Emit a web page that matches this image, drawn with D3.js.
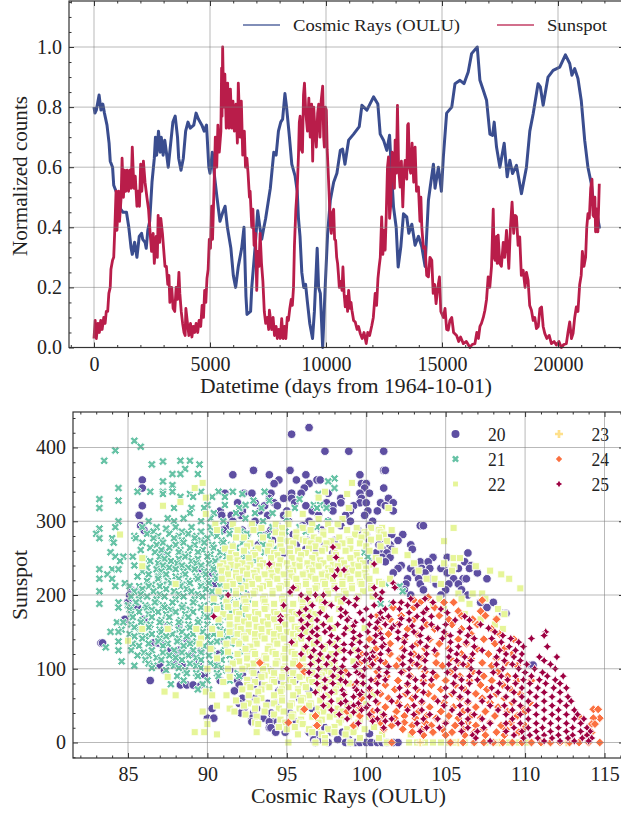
<!DOCTYPE html>
<html>
<head>
<meta charset="utf-8">
<script src="https://cdnjs.cloudflare.com/ajax/libs/d3/7.8.5/d3.min.js"></script>
<style>
body { margin: 0; background: #fff; }
svg { display: block; }
text { font-family: "Liberation Serif", serif; fill: #222; }
</style>
</head>
<body>
<div id="chart"></div>
<script>
// [day, normalized counts]
var cosmicRays = [[0,.80],[40,.78],[100,.79],[150,.81],[220,.84],[300,.79],[380,.81],[450,.78],[560,.74],[650,.68],[700,.62],[800,.60],[850,.54],[950,.52],[1050,.50],[1150,.46],[1250,.45],[1400,.45],[1500,.40],[1600,.33],[1650,.31],[1750,.35],[1850,.30],[1950,.37],[2050,.38],[2100,.36],[2200,.35],[2250,.33],[2320,.39],[2400,.42],[2500,.55],[2600,.63],[2650,.70],[2700,.64],[2780,.72],[2850,.65],[2900,.70],[2980,.64],[3050,.69],[3120,.65],[3200,.60],[3280,.66],[3400,.75],[3500,.77],[3600,.70],[3650,.63],[3750,.59],[3850,.63],[3950,.72],[4050,.75],[4150,.73],[4300,.74],[4400,.78],[4500,.76],[4650,.74],[4750,.72],[4850,.74],[4950,.60],[5000,.58],[5100,.65],[5150,.60],[5300,.50],[5430,.42],[5550,.45],[5650,.47],[5750,.40],[5900,.33],[6005,.24],[6105,.20],[6220,.27],[6365,.33],[6465,.40],[6550,.17],[6595,.11],[6750,.12],[6800,.20],[6940,.33],[7056,.455],[7150,.40],[7230,.36],[7300,.39],[7400,.43],[7500,.48],[7600,.53],[7750,.65],[7850,.64],[7950,.72],[8050,.75],[8130,.76],[8230,.845],[8300,.80],[8424,.70],[8525,.61],[8669,.57],[8760,.52],[8813,.43],[8880,.37],[8957,.25],[9040,.20],[9120,.21],[9200,.15],[9300,.08],[9420,.03],[9500,.12],[9620,.33],[9680,.20],[9756,.18],[9857,0],[9970,.21],[10070,.38],[10186,.49],[10330,.55],[10470,.58],[10616,.656],[10716,.66],[10817,.61],[10975,.69],[11190,.71],[11433,.735],[11548,.806],[11763,.79],[12050,.834],[12235,.81],[12336,.71],[12480,.69],[12620,.656],[12740,.706],[12810,.60],[12910,.468],[13025,.40],[13110,.268],[13225,.335],[13340,.445],[13480,.435],[13570,.38],[13700,.41],[13840,.34],[13985,.37],[14130,.335],[14270,.27],[14415,.49],[14485,.53],[14630,.61],[14700,.53],[14845,.60],[14975,.52],[15058,.634],[15200,.78],[15420,.80],[15560,.878],[15775,.889],[15947,.878],[16130,.917],[16276,.978],[16520,1],[16635,.889],[16780,.856],[16920,.823],[17065,.71],[17180,.706],[17250,.75],[17350,.667],[17495,.60],[17680,.68],[17810,.568],[17925,.623],[18040,.579],[18210,.606],[18425,.512],[18640,.60],[18785,.72],[18930,.778],[19140,.878],[19240,.867],[19360,.806],[19570,.90],[19790,.922],[20075,.933],[20320,.974],[20505,.945],[20600,.906],[20720,.928],[20860,.895],[21005,.82],[21150,.69],[21290,.60],[21435,.545],[21550,.468],[21650,.457],[21795,.396]];

var sunspot = [[0,.03],[50,.09],[100,.03],[170,.08],[230,.05],[290,.09],[350,.06],[420,.10],[480,.08],[530,.12],[590,.12],[640,.18],[700,.20],[730,.26],[800,.29],[850,.30],[900,.40],[950,.52],[990,.39],[1060,.52],[1100,.42],[1170,.50],[1210,.63],[1270,.50],[1320,.59],[1370,.52],[1430,.59],[1490,.52],[1550,.59],[1600,.53],[1650,.667],[1720,.53],[1780,.57],[1850,.47],[1900,.52],[1960,.47],[2010,.61],[2060,.52],[2130,.62],[2200,.55],[2280,.50],[2350,.46],[2420,.38],[2480,.32],[2550,.38],[2600,.28],[2680,.37],[2730,.30],[2765,.44],[2830,.35],[2880,.43],[2950,.38],[3000,.33],[3060,.27],[3120,.27],[3180,.21],[3230,.24],[3270,.15],[3350,.20],[3410,.13],[3480,.12],[3540,.20],[3600,.16],[3660,.25],[3700,.18],[3760,.12],[3820,.08],[3880,.05],[3930,.04],[3960,.13],[4030,.08],[4090,.04],[4160,.08],[4220,.035],[4280,.07],[4340,.05],[4400,.08],[4470,.05],[4530,.09],[4600,.07],[4660,.14],[4720,.10],[4770,.19],[4820,.15],[4870,.23],[4920,.26],[4970,.36],[5020,.33],[5070,.47],[5110,.36],[5180,.55],[5230,.70],[5290,.60],[5340,.74],[5400,.65],[5470,.72],[5500,.93],[5520,.77],[5545,1],[5590,.80],[5640,.91],[5700,.73],[5760,.88],[5820,.73],[5880,.86],[5940,.73],[5990,.82],[6050,.72],[6120,.81],[6180,.68],[6220,.88],[6300,.70],[6350,.82],[6410,.64],[6480,.72],[6530,.60],[6590,.63],[6640,.58],[6700,.50],[6730,.52],[6800,.40],[6850,.46],[6900,.34],[6960,.38],[7015,.19],[7060,.32],[7110,.27],[7160,.38],[7220,.28],[7280,.22],[7340,.12],[7400,.08],[7470,.10],[7530,.06],[7560,.124],[7660,.06],[7720,.10],[7780,.04],[7850,.07],[7900,.03],[7960,.06],[8030,.03],[8090,.096],[8150,.03],[8210,.07],[8270,.03],[8330,.10],[8380,.09],[8440,.13],[8500,.16],[8550,.14],[8600,.20],[8640,.34],[8700,.46],[8760,.53],[8813,.64],[8850,.75],[8885,.77],[8930,.66],[8985,.65],[9030,.84],[9072,.88],[9130,.78],[9200,.72],[9260,.83],[9320,.70],[9380,.81],[9426,.62],[9470,.80],[9530,.72],[9584,.667],[9640,.78],[9685,.81],[9740,.70],[9790,.82],[9857,.87],[9900,.70],[9930,.667],[9975,.80],[10014,.79],[10050,.66],[10086,.60],[10130,.52],[10157,.468],[10190,.40],[10230,.38],[10280,.45],[10330,.46],[10370,.36],[10415,.357],[10460,.30],[10500,.28],[10540,.24],[10573,.20],[10640,.22],[10690,.19],[10730,.268],[10780,.18],[10830,.135],[10890,.17],[10930,.12],[10975,.19],[11040,.13],[11080,.15],[11118,.124],[11190,.09],[11260,.085],[11340,.06],[11400,.07],[11476,.047],[11560,.03],[11640,.05],[11734,.013],[11800,.05],[11880,.04],[11977,.074],[12040,.10],[12120,.18],[12180,.14],[12240,.23],[12290,.268],[12340,.30],[12400,.435],[12450,.31],[12500,.39],[12550,.324],[12600,.45],[12650,.60],[12695,.634],[12740,.43],[12795,.479],[12850,.65],[12910,.623],[12950,.53],[12980,.69],[13030,.58],[13080,.806],[13130,.60],[13195,.534],[13250,.62],[13310,.468],[13360,.58],[13410,.623],[13480,.56],[13520,.74],[13550,.745],[13600,.60],[13650,.58],[13710,.68],[13780,.55],[13840,.667],[13900,.52],[13985,.534],[14050,.42],[14090,.50],[14130,.40],[14200,.33],[14270,.335],[14340,.24],[14415,.235],[14480,.30],[14560,.29],[14620,.18],[14680,.21],[14745,.146],[14820,.20],[14890,.235],[14950,.12],[15060,.10],[15130,.13],[15200,.06],[15270,.058],[15340,.09],[15420,.10],[15500,.05],[15630,.04],[15720,.02],[15800,.035],[15920,.013],[16050,.02],[16205,0],[16300,.01],[16420,.013],[16500,.05],[16570,.03],[16635,.07],[16700,.08],[16780,.10],[16850,.124],[16920,.16],[16990,.235],[17060,.20],[17135,.27],[17208,.46],[17250,.30],[17290,.29],[17350,.37],[17380,.28],[17420,.374],[17490,.28],[17560,.27],[17640,.35],[17700,.30],[17780,.39],[17880,.263],[17950,.40],[18020,.484],[18090,.38],[18150,.44],[18210,.435],[18280,.34],[18350,.368],[18420,.24],[18500,.257],[18580,.20],[18640,.25],[18710,.224],[18780,.14],[18855,.124],[18930,.09],[19000,.10],[19070,.063],[19150,.07],[19220,.13],[19290,.135],[19360,.07],[19430,.047],[19520,.03],[19620,.04],[19715,.013],[19830,.02],[19930,.008],[20040,.02],[20145,0],[20250,.01],[20360,.013],[20430,.05],[20505,.085],[20580,.03],[20650,.047],[20720,.10],[20790,.135],[20860,.12],[20935,.21],[21000,.24],[21050,.32],[21120,.27],[21190,.30],[21240,.40],[21290,.445],[21350,.43],[21410,.53],[21465,.56],[21510,.44],[21550,.435],[21590,.50],[21620,.385],[21670,.46],[21720,.385],[21780,.545]];

// scatter rows: [sunspot, cosmic ray values at that sunspot level...]
var cycle20 = [
[427,96.4],[418,95.3],[395,97.4,98.9,101.1],[369,92.9,95.2,101.1,101.2],[363,91.6,93.9,96.2,99.6],[356,85.9,94.5,95.6,96.9,97.1],[351,94.2,96.4,99.7,100],[345,85.9,96.1,99.9,101.1],[338,91.1,92.3,92.8,94,95.3,95.9,97.6,99.6,100.2],[331,93.9,94.8,95.3,98.4,99.7,101.4],[325,91.9,93,94.2,95.5,97.5,98.4,99.6,100,100.9,101.7],[321,85.9,93.6,94.4,96.2,97.9,99.2,101.2],[314,90.8,92.2,93.3,95,96.6,97.9,99,100.1,100.7,101.7],
[308,85.7,90.9,91.5,92.1,93.8,94.8,97,98.7,99.9],[300,91.6,93,95.1,96.4,97.6,99,100.4],[294,85.8,91.3,92.8,94.4,96,98.4,100.2,103.4,103.6],[288,86,91,92.2,94,97.2,99.5,100.8],[282,92.5,93.6,95.4,100,101.1,101.6,102.3],[274,94.1,96.3,96.9,98,100.2,101,102],[268,93.2,95.6,96.7,97.4,100.8,101.5,102.8],[262,94.6,96.2,96.8,101,101.6,102.9],[257,87.2,94.8,97.9,100.6,101.3,106.4],[251,101,101.5,104.2,105.1],[245,100.3,101.2,103.4,103.9,106.2],[240,102.2,103,104.9,106.6],[236,89.6,102,102.8,103.5,104,104.7,105.8,106.5],[230,90.3,101.7,103.1,103.7,105.1,107],[222,91,92.2,102.6,103.3,104,105.5,106.1,106.3,107.6],[215,90.5,102.5,103.4,104.4,105.2,105.8],[207,85.2,85.8,102.4,103.6,105,106],[200,85.1,92.5,102.8,104.7,106.4],[190,85,107.2,108],[183,85.6,107.6],[175,108.6,108.8],[167,84.8,86],[158,87.5,88.2],
[140,88.7,91],[135,83.3,83.4,86.6,86.9,87.2],[125,87.7,88.2,89.6,92.5],[120,88.1,89,90.7],[110,88,89.5,93.4],[105,87,88.4,90.5,110.4,110.5],[98,87.3,91.4,92.8,93.9],[92,89.8,92.2,93.3,94.9],[84,86.4,90.8,91.9,92.6,93.2,94.6,95.5],[78,88.3,88.7,89.1,89.6,92,92.9,93.4,95],[70,91.7,94.5,96.4],[60,92.2,93,95.8],[53,92,93.8,94.3],[46,90.3,92.3,93.1,96.6],[40,92.1,92.9,94,95.2],[33,90,90.4,92.8,93.5,94.1],[28,92.8,93.9,94.4,95.6],[20,93.9,94,96.8,97.4],[14,94.3,94.9,96.4,97.8,98.5],[12,97,100.2],[4,96.7,97.1,98.2,98.9],[0,96.8,97.6,98.7,99,99.3,99.6,100,100.3,100.7,101,101.3,101.7,102]];

var cycle21 = [
[409,85.4],[401,85.8],[396,84.2],[382,83.5,88.3,88.9],[381,87.2],[377,86.5,89.5],[371,88.6],[364,87.8,88.3,89.4],[358,98],[354,87.2,97.6],[349,87.8],[345,84.4,98],[340,85.6,86.4,87.8,87.2,89.6,90.7,91.6,93.6],[337,87.2,88.9,92.2,97],[333,88.3,89.1,90.3,91.1],[328,84.4,92.9,93.9],[330,83.2,95.8],[322,90,91.1,92.4,96.7,97.1],[318,83.2,87.9,89,89.8,92,93.4,95.5,96.9,97.5],[311,88.9,90.4,91.8,93,94.1],[304,87.5,88.5,90.2,92.4,95],[300,84.4,86.3,87.9,89.6,91,93.5,97.6],[292,84.2,85.9,86.8,88,89,90.2,91.6,92.9,94.1,95.8,96.9],[290,83.2,87.4],
[286,86.6,88.4,89.6,90.8,92.1,93.3,94.9,96.2],[283,83,86.2,87.6,88.8,90.3,91.4,92.5,94.6],[280,85.4,86.9,88.2,89.3,90.6,91.9,93.8],[277,83.2,84,85.5,86.6,87.9,89.2,90,93.4],[274,87.1,88.4,89.6,90.9,92.4,94.9],[271,84.1,85.9,87.2,88.5,89.8,91,92.2],[268,86.8,88,89.2,90.3,91.5,93.5],[264,86.4,87.6,88.9,90.4,91.8,93,94.3],[261,85.8,87.1,88.3,89.7,91,92.4],[258,83.9,86.7,88.2,89.4,90.8,93.6,99.9],[255,87.5,88.8,90.2,91.5,92.6],[252,84.2,84.7,85.3,87,88.6,90,91.2,92.4,100.1],[249,86,87.3,88.2,89.4,90.7,92],[246,84.5,86.4,87.7,89,90.5,91.8,93],[243,86.9,88.1,89.3,90.1,91.4,92.7],[240,85.4,87.2,88.4,89.6,91,92.3],[237,86.2,87.6,88.8,90.3,91.7],[235,83.2,84,84.4,86.8,88,89.2,90.4,91.6],[232,85.9,87.1,88.5,89.8,91,92.2],[228,83.7,86.3,87.4,88.6,89.9,91.1,92.6],[225,85.6,86.9,88,89.3,90.5,91.8],[222,83.2,84,86.9,88.2,89.4,90.6,91.9],[219,86.2,87.5,88.8,90,91.2,92.4],[216,84.8,87.7,88.9,90.1,91.3,101.2],[214,86.5,87.2,88.4,89.6,90.9,92.1],[212,84.2,85.1,85.7,86.3,87,88.3,89.6,90.8,102.1],[208,85.9,87.4,88.7,89.9,91.1,92.3],[205,83.2,85.4,86.6,87.9,89,90.3,91.6,102.3],[201,85.8,87,88.2,89.4,90.7,91.9],[198,85.2,86.2,87.3,88.5,89.7,91,92.2],[194,85.7,86.8,88,89.2,90.3,91.4,92.6],[190,84.4,85.5,86.7,87.8,89.1,90.4,91.7],[188,83.2,100.9,101.6],[186,85,86.1,87.2,88.5,89.8,91,92.3],[183,84.4,85.2,86.2,87.3,88.4,89.6,90.8,92],[180,85.1,86.5,87.7,88.9,90.3,91.6],[177,85.7,86.9,88,89.1,90.2,91.5],[174,85.2,86.3,87.4,88.6,89.8,91,92.2],[170,85.3,86.5,87.6,88.8,90,91.3,92.6],[166,85.9,87.1,88.3,89.5,90.8,92],[163,84.3,84.7,85.8,87,88.2,89.4,90.7],[160,85.2,86.4,87.6,88.8,90,91.4],[156,85.4,86.3,87.6,88.9,90.2,91.5],[153,84.6,85.8,87,88.2,89.5,90.8,92],[150,83.9,84.4,85.8,87.1,88.4,89.7,91,92.4],[147,85.1,86.5,87.8,89.1,90.4,91.7],[144,85.4,86.1,87.4,88.7,90,91.3],[141,85.9,87,88.2,89.6,90.9,92.2],[137,84.4,86.9,88.1,89.3,90.6,92],[134,85.3,86.3,87.5,88.9,90.2,91.5],[131,85.7,87.2,88.5,89.8,91.1],[129,83.6,92.4],[125,84.4,85.2,86.5,87.9,89.1,90.3],[122,86,87.2,88.4,89.6,91,92.2],[118,85.6,86.3,87.6,88.8,90.1,91.4],[115,86.8,88,89.3,90.6,91.9],[112,86.1,87.1,88.4,89.6,90.9],[110,84.6],[107,86.3,87.6,88.9,90.2,91.5],[104,85.4,86.6,87.9,89.3,90.6],[101,86.5,88.2,89.6,90.9,92.3],[98,87.4,88.6,90,91.2],[94,88.7,89.3,90.6,91.9],[90,88.1,89.4,90.7,92],[84,88.5,90,91.4],[79,87.7,89.7],[72,89.4,90.1]];

var cycle22 = [
[352,89.7,99.1],[345,89.2],[340,97.4],[337,98.8],[332,89.9,97],[326,88.3],[321,87.2],[318,101.4,98.9],[310,89.9,95.1,96],[303,97,98.5],[296,90.5,91.6,92.8,94.3,95.1,96.6,97.6,98.2],[291,93.4,94.7,96,99.4,100.3,101,105.5],[288,90.6,91.9,92.9,96.5,97.8,98.8,100.8,101.6],[285,94.3,95.6,97.3,99.9,100.9],[282,84.5,94.7,97.3,99.3,100,101.1],[278,91.8,92.3,93.5,95.6,96.7,98.3,99.7,100.8],[275,94.6,96,97,98.9,100.3],[273,95.1,96.2,97.8,99,101.3,104.9],[270,92.7,94,95.4,96.5,97.5,98.5,99.6],[266,91.6,92.5,93.9,94.6,96.8,98.2,100,100.9],[263,91.1,93.2,95.2,96.4,97.4,99],[260,92.3,93.8,94.7,95.7,97.2,98.7,100.2,101.8],[257,91.5,92.9,94.2,95.2,96.2,98,99.4],[254,91.8,93,94.4,95.9,96.8,98.1,99.4,102.6],[250,85.9,91.4,92.6,94,95.3,96.6,97.7,99,100.6,105.5,105.9],[247,91.9,93.3,94.6,95.8,97.1,98.4,99.6,100.8],[243,91,92.2,93.5,95,96.3,97.3,98.6,99.8,103,104.9],[241,91.5,92.7,94.1,95.5,96.7,97.9,99.2,100.4],[239,85.9,90.8,91.9,93.3,94.5,95.8,97,98.2,99.5,106.9,105.5],[236,91.2,92.5,93.9,95.1,96.4,97.6,98.8,100],[233,90.9,92.2,93.1,94.4,95.4,96.6,97.8,99.1,100.6,103.3,105.4,107.8],[230,91.8,92.9,94,95.2,96.2,97.4,98.7,99.9],[228,91.3,92.5,93.6,94.8,96,97.2,98.3,99.5,108.5],[225,91.8,93,94.1,95.3,96.5,97.6,98.8,100],[222,90.9,92,93.2,94.4,95.6,96.8,97.9,99,100.2,101.5,103.8,104.3,109],[218,91.4,92.6,93.8,95,96.2,97.3,98.5,99.6,100.8],[215,88,91.6,92.8,93.9,95,96.2,97.4,98.5,99.7,101,104.7],[212,91.2,92.4,93.5,94.6,95.7,96.9,98,99.1,100.3],[209,92.1,93.3,94.5,95.6,96.8,98,99.1,100.3,109.7],[205,90.7,91.8,93,94.1,95.2,96.4,97.5,98.6,99.8],[202,91.8,92.9,94.1,95.2,96.4,97.6,98.7,105.8,106.7,107.3],
[198,91.3,92.5,93.6,94.8,96,97.2,98.3,99.5,100.4],[195,90.4,92.3,93.5,94.7,95.9,97,98.2,99.4,104.6,106,107.5],[191,91.2,92.4,93.6,94.8,96,97.2,98.4],[188,91.8,93,94.2,95.4,96.5,97.7,104.2,106.5],[184,91.3,92.5,93.7,94.9,96,97.3],[181,90,90.6,92.4,93.6,94.8,96,97.2,98.3,104.9,108.3],[177,91.8,93,94.2,95.3,96.5],[174,91,92,93.2,94.4,95.6,96.8,106.2,108.7],[170,91.4,92.6,93.8,95,96.1],[167,90.7,91.9,93,94.2,95.3,96.5,97.7,107.2,108.2],[164,92.3,93.5,94.7,95.9],[160,91.4,92.6,93.8,94.9,96,97.2,108.1],[157,91.9,93.1,94.4,95.5,96.5],[155,97.9,98.9,99.9],[154,85.9,87.5,89.3,90.3,92.1,93.4,94.5,95.7,96.9,108.6],[150,91.4,92.6,93.9,95,96.2],[147,90.8,91.9,93,94.2,95.4,96.6],[144,92.3,93.4,94.6,95.7],[141,89.6,92.4,93.6,94.8,95.9,97],[140,98.2,99.4,100.3],[138,85,91.7,93,94.2,95.4,96.5],[134,89.5,91.2,92,93.1,94.4,95.5,96.7,97.9],[130,92.7,93.9,95,96.2,97.4],[127,90.2,92.4,93.8,94.9,96.1,97.3],[125,98.3,99.3,100.4],[123,91.3,92.9,94.1,95.3,96.4],[120,91.9,93,94.3,95.5,96.6,97.8],[117,92.5,93.6,94.8,96,97],[114,90.6,92.5,93.7,94.9,96,97.2],[110,92,93.2,94.4,95.5,96.8,98,99.2,100.2],[107,91.6,92.9,94.3,95.4,96.6,97.7],[103,92.5,93.7,94.9,96.1,97.3],[100,90,91.3,92.2,93.5,94.8,96,97.1,98.3],[97,92.8,94,95.1,96.3,97.5],[95,98.6,99.6],[94,92.9,94.2,95.4,96.6,97.8],[91,93.6,94.8,96,97.2,98.4],[89,87.5,91.4,93.4,94.7,95.8,97,98.2],[85,92.5,94.1,95.2,96.4,97.5],[82,91,93,94.2,95.4,96.6,97.8],[80,98.9,99.8],[78,92.5,93.6,94.8,96,97.1,98.3],[75,92.7,93.9,95.1,96.2,97.4],[72,92.2,93.4,94.7,95.7,97,98.1],[69,87.3,89.9,93.2,94.6,95.7,96.9,98],[65,98.6,99.8,100.4],[64,88,90.3,91.2,92.6,94.2,95.4,96.4,97.6],[60,93.4,94.7,96,97.2,98.5],[57,91.8,93.1,94.7,95.9,97.1,98.3],[53,92.6,94.2,95.3,96.5,97.7],[52,98.9,100],[50,90.6,92.3,93.7,95.2,96.4,97.6,98.8],[46,91.4,93,94.5,95.8,97,98.2],[42,89.7,91.7,93.6,94.8,96,97.3,98.5,99.5],[38,92.4,94.2,95.4,96.9,98,99,100.2,101],[35,93.1,95.3,96.6,97.7,98.9,100.2],[31,94.6,95.9,97.2,98.4,99.6],[27,90,93,94.9,95.8,97,98.3,99.5,100.6],[25,90,93.2,96],[21,94.5,95.5,96.9,98,99.3,100.5],[18,95,96.4,97.6,98.8,99.9,101.1],[14,89.2,89.8,93.1,96.6,98,99.2],[11,90.6,95.7,97.2,98.7,101,102.8],[6,97.4,99.6,100.8],[0,95.1,96.8,97.4,99,101.3,102.7,103.2,103.7,104.2,104.7,105.2,105.6,106.2,106.8,107.5,108.2,109,109.6,110.1]];

var cycle23 = [[0,103.4,105.8,108.4,111.1,112.6]];

var cycle24 = [
[197,103.9],[193,103,107.3],[190,102.2,103.4,104.9,105.5],[183,101.7,103,104.3],[178,103.7,105.8,107.2],[172,100.7,102.2,104.6,106,107.5],[167,101.5,103,105.2,106.7,108.2],[160,102,103.8,105.4,107],[154,100.8,102.6,104.3,106,107.9],[147,101.4,103.2,105,106.6,108.4],[140,100.2,102.4,104,105.8,107.4,109.3],[134,101.5,103.2,104.6,106.3,108.1],[127,100.6,102.3,103.7,105.2,107,108.7],[120,99.7,101.5,103,104.4,106,107.7,109.2],[114,100.6,102.1,103.5,105.3,106.6,108.2],[108,93.3,99.6,101.2,102.9,104.4,105.8,107.3,108.8],[104,95.8,100.3,101.9,103.3,104.8,106.4,107.9,109.5],[96,96.1,98.7,100.7,102.3,103.7,105.3,106.7,108.3],[90,99.8,101.3,102.8,104.4,105.9,107.4,108.9],[84,100.6,102,103.6,105,106.5,107.9,109.5,110.4],[78,99.3,101.2,102.6,104.1,105.6,107.2,108.6],[72,100.2,101.8,103.2,104.7,106.2,107.6,109.1],[66,100.9,102.5,103.9,105.4,106.9,108.2,109.7],[60,99.7,101.4,102.9,104.3,105.9,107.3,108.7],[54,100.7,102,103.5,104.9,106.4,107.8,109.2,110.3],[48,99.6,101.2,102.6,104,105.5,106.9,108.3,109.8],[45,96.1,114.3,114.6],[42,98.8,100.4,101.9,103.3,104.7,106.1,107.5,108.9,110],[36,96.8,99.6,101.1,102.4,103.8,105.2,106.6,108.1,109.5],[35,113.4],[33,100.4,101.8,103.1,104.4,105.8,107.2,114.7,114.3],[27,95.1,100.9,102.4,103.7,105,106.4,107.8,109.1],[23,96.9,99.2,101.6,102.9,104.1,105.6,106.9,108.5,110],[25,114.2,114.4],[18,101.1,102.3,103.5,104.8,106.1,107.4,108.8,109.9],[14,102.9,104.2,105.4,106.8,108.2,109.6,114.2],[10,103.6,105,106.2,107.5,108.7,113.9],[0,101.6,105.3,106.1,106.8,107.4,108,108.6,109.2,109.8,110.4,111,111.6,112.2,112.8,113.4,114,114.7]];

var cycle25 = [
[265,97.9],[251,98.1],[242,93.9,100.5],[234,98.2,98.6],[226,98],[216,101.7],[210,95.4,100.5,101.8],[209,98.1],[204,95.2,101],[200,91.3,95.9,96.8,97.3,100.6],[195,96.3,98.6,99.4,100.9,102.8,103.7],[190,97.4,98.9,101.7,102.2,104.2],[186,94.8,96.6,97.8,99.3,100.5,102.6,103.2],[181,96.2,98.4,100,101.2,102.1,103.8,104.7],[176,95.8,97.1,98.7,99.6,100.9,102.7,103.6,105.1],[171,90.4,94.6,96.4,97.5,98.4,100.3,101.4,103.2,104.1,106.2],[168,98.9,101,102.2],[166,94.6,95.9,96.9,98.8,99.8,100.8,102.7,103.6,105.6,106.5],[163,99.3,100.7],[160,96.3,97.3,98.2,100.2,101.2,102.1,104.1,105,107.2],[158,99.2,101.7,102.9],[155,96,96.9,97.7,98.7,100.6,101.6,103.5,104.5,106.5,107.7],[150,96.6,97.4,99.2,100.1,102,103,104.9,105.9,108.1,111.3],[147,98.6,100.9],[145,95.9,96.9,97.8,99.6,100.6,102.5,103.4,105.3,106.4,108.6,111.2],[141,96.4,98.2,99.2,101,102,103.9,104.8,106.8,107.9,109.1,110.4],[136,95.3,96.9,97.7,99.6,100.5,102.4,103.4,105.3,106.3,108.5,109.6],[133,98.6,99.1,101.1],[130,96.2,97.2,98.1,100,101,102.9,103.8,105.8,106.8,109,109.9,111.4],[125,96.7,98.6,99.5,101.4,102.4,104.3,105.3,107.3,108.4,109.4],[122,99,100.4],[120,95.9,97.1,98.1,100,100.9,102.8,103.8,105.7,106.7,108.8,109.8],[116,96.5,97.6,99.5,100.4,102.3,103.3,105.2,106.2,108.2,109.3,110.9,112],[113,98.6,100.2],[111,97,98,99.9,100.9,102.8,103.7,105.7,106.6,108.7,109.7,111.2],[106,96.5,97.5,99.4,100.4,102.3,103.2,105.2,106.1,108.2,109.2,110.1,111.6],[103,98.5,99.3,101.4],[100,95,97,98,99.9,100.8,102.7,103.7,105.6,106.6,108.6,109.6,110.6,111.9],[95,96.4,98.4,99.4,101.3,102.2,104.2,105.1,107.1,108,110,111.1],[92,98.9,99.6],[90,96.9,97.9,99.8,100.8,102.7,103.6,105.6,106.5,108.5,109.4,110.4,111.4,112.4],[85,97.4,98.4,100.3,101.2,103.1,104.1,106,107,108.9,109.9,110.9,111.9],[82,98.7,99.4],[80,96.9,97.9,99.8,100.7,102.6,103.6,105.5,106.5,108.4,109.4,110.3,111.3,112.2],[74,97.4,99.3,100.2,102.1,103.1,105,106,107.9,108.9,109.8,110.8,111.8,112.6],[71,98.5,99.4],[68,96.8,97.8,99.7,100.7,102.6,103.6,105.5,106.4,108.3,109.3,110.3,111.2,112.2],[65,98.6,99.6],[62,97.3,99.2,100.2,102.1,103.1,105,105.9,107.8,108.8,109.8,110.7,111.7,112.7],[56,97.8,98.7,100.6,101.6,103.5,104.5,106.4,107.3,109.3,110.2,111.2,112.2,112.9],[53,98.4,99.5],[50,97.3,99.2,100.1,102.1,103,104.9,105.9,107.8,108.7,109.7,110.7,111.7,112.6],[47,98.9,100],[44,97.8,99.7,100.7,102.6,103.5,105.4,106.4,108.3,109.2,110.2,111.2,112.1,113.1],[41,99.2],[38,98.3,100.2,101.1,103,104,105.9,106.8,108.8,109.7,110.7,111.7,112.6,113.3],[32,98.8,100.7,101.6,103.6,104.5,106.4,107.3,109.2,110.2,111.2,112.1,113.1,113.7],[29,100.4,101.2],[26,99.5,102,103.2,105,106,107.8,108.8,109.7,110.7,111.6,112.6,113.5],[20,101.1,103.8,104.6,106.4,107.4,109.3,110.2,111.1,112.1,113,113.9],[15,103.4,106,107,108.8,109.8,110.7,111.6,112.6,113.5,114.1],[10,106.7,109.3,110.3,111.2,112.1,113,113.9],[6,106.9,109.9,110.8,111.7,112.7,113.6,114.2],[2,107.8,111.2,112.2,113.1,114]];

var cycleNames = ["20", "21", "22", "23", "24", "25"];
var cycleRows = [cycle20, cycle21, cycle22, cycle23, cycle24, cycle25];
var cycleColors = ["#5e4fa2", "#66c2a5", "#e6f598", "#fee08b", "#fb7040", "#9e0142"];
var lineColors = ["#3a4d8f", "#b91d4a"];
var lineNames = ["Cosmic Rays (OULU)", "Sunspot"];

var inkColor = "#333";
var gridColor = "rgba(128,128,128,0.55)";

var svg = d3.select("#chart").append("svg")
    .attr("width", 621)
    .attr("height", 814);

// text stretched to the width it has in the picture
function addText(x, y, str, size, width, anchor, rotate) {
    var t = svg.append("text")
        .attr("text-anchor", anchor || "start")
        .attr("font-size", size)
        .attr("textLength", width)
        .attr("lengthAdjust", "spacingAndGlyphs")
        .text(str);
    if (rotate) {
        t.attr("transform", `translate(${x},${y}) rotate(-90)`);
    } else {
        t.attr("x", x).attr("y", y);
    }
}

// grid on top of the marks, ticks pointing in on all four sides
function frame(box, x, y, xMajor, xMinor, yMajor, yMinor, yFormat) {
    var grid = svg.append("g").attr("stroke", gridColor).attr("stroke-width", 1);
    xMajor.forEach(function(v) {
        grid.append("line").attr("x1", x(v)).attr("x2", x(v)).attr("y1", box.top).attr("y2", box.bottom);
    });
    yMajor.forEach(function(v) {
        grid.append("line").attr("x1", box.left).attr("x2", box.right).attr("y1", y(v)).attr("y2", y(v));
    });

    var sides = [
        [d3.axisBottom, x, xMajor, xMinor, `translate(0,${box.bottom})`],
        [d3.axisTop, x, xMajor, xMinor, `translate(0,${box.top})`],
        [d3.axisLeft, y, yMajor, yMinor, `translate(${box.left},0)`],
        [d3.axisRight, y, yMajor, yMinor, `translate(${box.right},0)`]
    ];
    sides.forEach(function(s, i) {
        var major = s[0](s[1]).tickValues(s[2]).tickSize(-5).tickPadding(i == 0 ? 9 : 7);
        if (i == 0) major.tickFormat(d3.format("d"));
        else if (i == 2) major.tickFormat(yFormat);
        else major.tickFormat("");
        var minor = s[0](s[1]).tickValues(s[3]).tickSize(-2.5).tickFormat("");

        var g = svg.append("g").attr("transform", s[4]).call(major);
        g.select(".domain").remove();
        g.selectAll("text").attr("font-size", 20).attr("fill", "#222")
            .style("font-family", '"Liberation Serif", serif');
        g.selectAll("line").attr("stroke", inkColor);

        var m = svg.append("g").attr("transform", s[4]).call(minor);
        m.select(".domain").remove();
        m.selectAll("line").attr("stroke", inkColor);
    });

    svg.append("rect")
        .attr("x", box.left).attr("y", box.top)
        .attr("width", box.right - box.left).attr("height", box.bottom - box.top)
        .attr("fill", "none")
        .attr("stroke", inkColor)
        .attr("stroke-width", 1.2);
}

// ---------- top panel ----------
var topBox = {left: 69, right: 624, top: 1, bottom: 347.5};
var xDays = d3.scaleLinear().domain([0, 5000]).range([94, 210]);
var yNorm = d3.scaleLinear().domain([0, 1]).range([347.5, 47]);

var line = d3.line()
    .x(d => xDays(d[0]))
    .y(d => yNorm(d[1]));

svg.append("path").datum(cosmicRays)
    .attr("d", line)
    .attr("fill", "none")
    .attr("stroke", lineColors[0])
    .attr("stroke-width", 3)
    .attr("stroke-linejoin", "round");

svg.append("path").datum(sunspot)
    .attr("d", line)
    .attr("fill", "none")
    .attr("stroke", lineColors[1])
    .attr("stroke-width", 2.8)
    .attr("stroke-linejoin", "round");

// legend
[[243, 293, 167], [497, 547, 60]].forEach(function(p, i) {
    svg.append("line")
        .attr("x1", p[0]).attr("x2", p[0] + 37)
        .attr("y1", 25).attr("y2", 25)
        .attr("stroke", lineColors[i])
        .attr("stroke-opacity", 0.85)
        .attr("stroke-width", 1.5);
    addText(p[1], 31, lineNames[i], 17, p[2]);
});

frame(topBox, xDays, yNorm,
    [0, 5000, 10000, 15000, 20000],
    d3.range(-1000, 23000, 1000).filter(v => v % 5000 != 0),
    [0, 0.2, 0.4, 0.6, 0.8, 1.0],
    d3.range(0, 1.16, 0.05).filter(v => Math.round(v * 100) % 20 != 0),
    d3.format(".1f"));

addText(346, 393, "Datetime (days from 1964-10-01)", 20, 292, "middle");
addText(27, 176, "Normalized counts", 20, 160, "middle", true);

// ---------- bottom panel ----------
var botBox = {left: 73, right: 624, top: 412, bottom: 758};
var xCosmic = d3.scaleLinear().domain([85, 115]).range([128, 604.5]);
var ySun = d3.scaleLinear().domain([0, 400]).range([742.5, 447.5]);

// filled shapes, sized to the marker widths in the picture
var star4 = {
    draw: function(ctx, size) {
        var r = Math.sqrt(size), q = r * 0.36;
        ctx.moveTo(0, -r);
        ctx.lineTo(q, -q);
        ctx.lineTo(r, 0);
        ctx.lineTo(q, q);
        ctx.lineTo(0, r);
        ctx.lineTo(-q, q);
        ctx.lineTo(-r, 0);
        ctx.lineTo(-q, -q);
        ctx.closePath();
    }
};
var symbols = [d3.symbolCircle, d3.symbolCross, d3.symbolSquare, d3.symbolCross, d3.symbolSquare, star4];
var turns = [0, 45, 0, 0, 45, 0];
var plotSizes = [58, 44, 50, 40, 40, 20];
var keySizes = [50, 30, 24, 36, 20, 10];

function marker(g, i, x, y, size, edge) {
    g.append("path")
        .attr("d", d3.symbol().type(symbols[i]).size(size)())
        .attr("transform", `translate(${x},${y}) rotate(${turns[i]})`)
        .attr("fill", cycleColors[i])
        .attr("stroke", edge ? "#fff" : "none")
        .attr("stroke-width", edge ? 0.9 : 0);
}

var scatter = svg.append("g");
cycleRows.forEach(function(rows, i) {
    var g = scatter.append("g");
    rows.forEach(function(row) {
        row.slice(1).forEach(function(v) {
            marker(g, i, xCosmic(v), ySun(row[0]), plotSizes[i], true);
        });
    });
});

// legend, two columns of three
cycleNames.forEach(function(name, i) {
    var col = i < 3 ? 0 : 1;
    var rowY = 434 + (i % 3) * 25;
    marker(svg, i, 455.5 + col * 103.5, rowY, keySizes[i], false);
    addText(488 + col * 103.5, rowY + 7, name, 18, 17.5);
});

frame(botBox, xCosmic, ySun,
    [85, 90, 95, 100, 105, 110, 115],
    d3.range(82, 117).filter(v => v % 5 != 0),
    [0, 100, 200, 300, 400],
    d3.range(-20, 450, 20).filter(v => v % 100 != 0),
    d3.format("d"));

addText(348.5, 803, "Cosmic Rays (OULU)", 20, 195, "middle");
addText(27, 585, "Sunspot", 20, 70, "middle", true);
</script>
</body>
</html>
